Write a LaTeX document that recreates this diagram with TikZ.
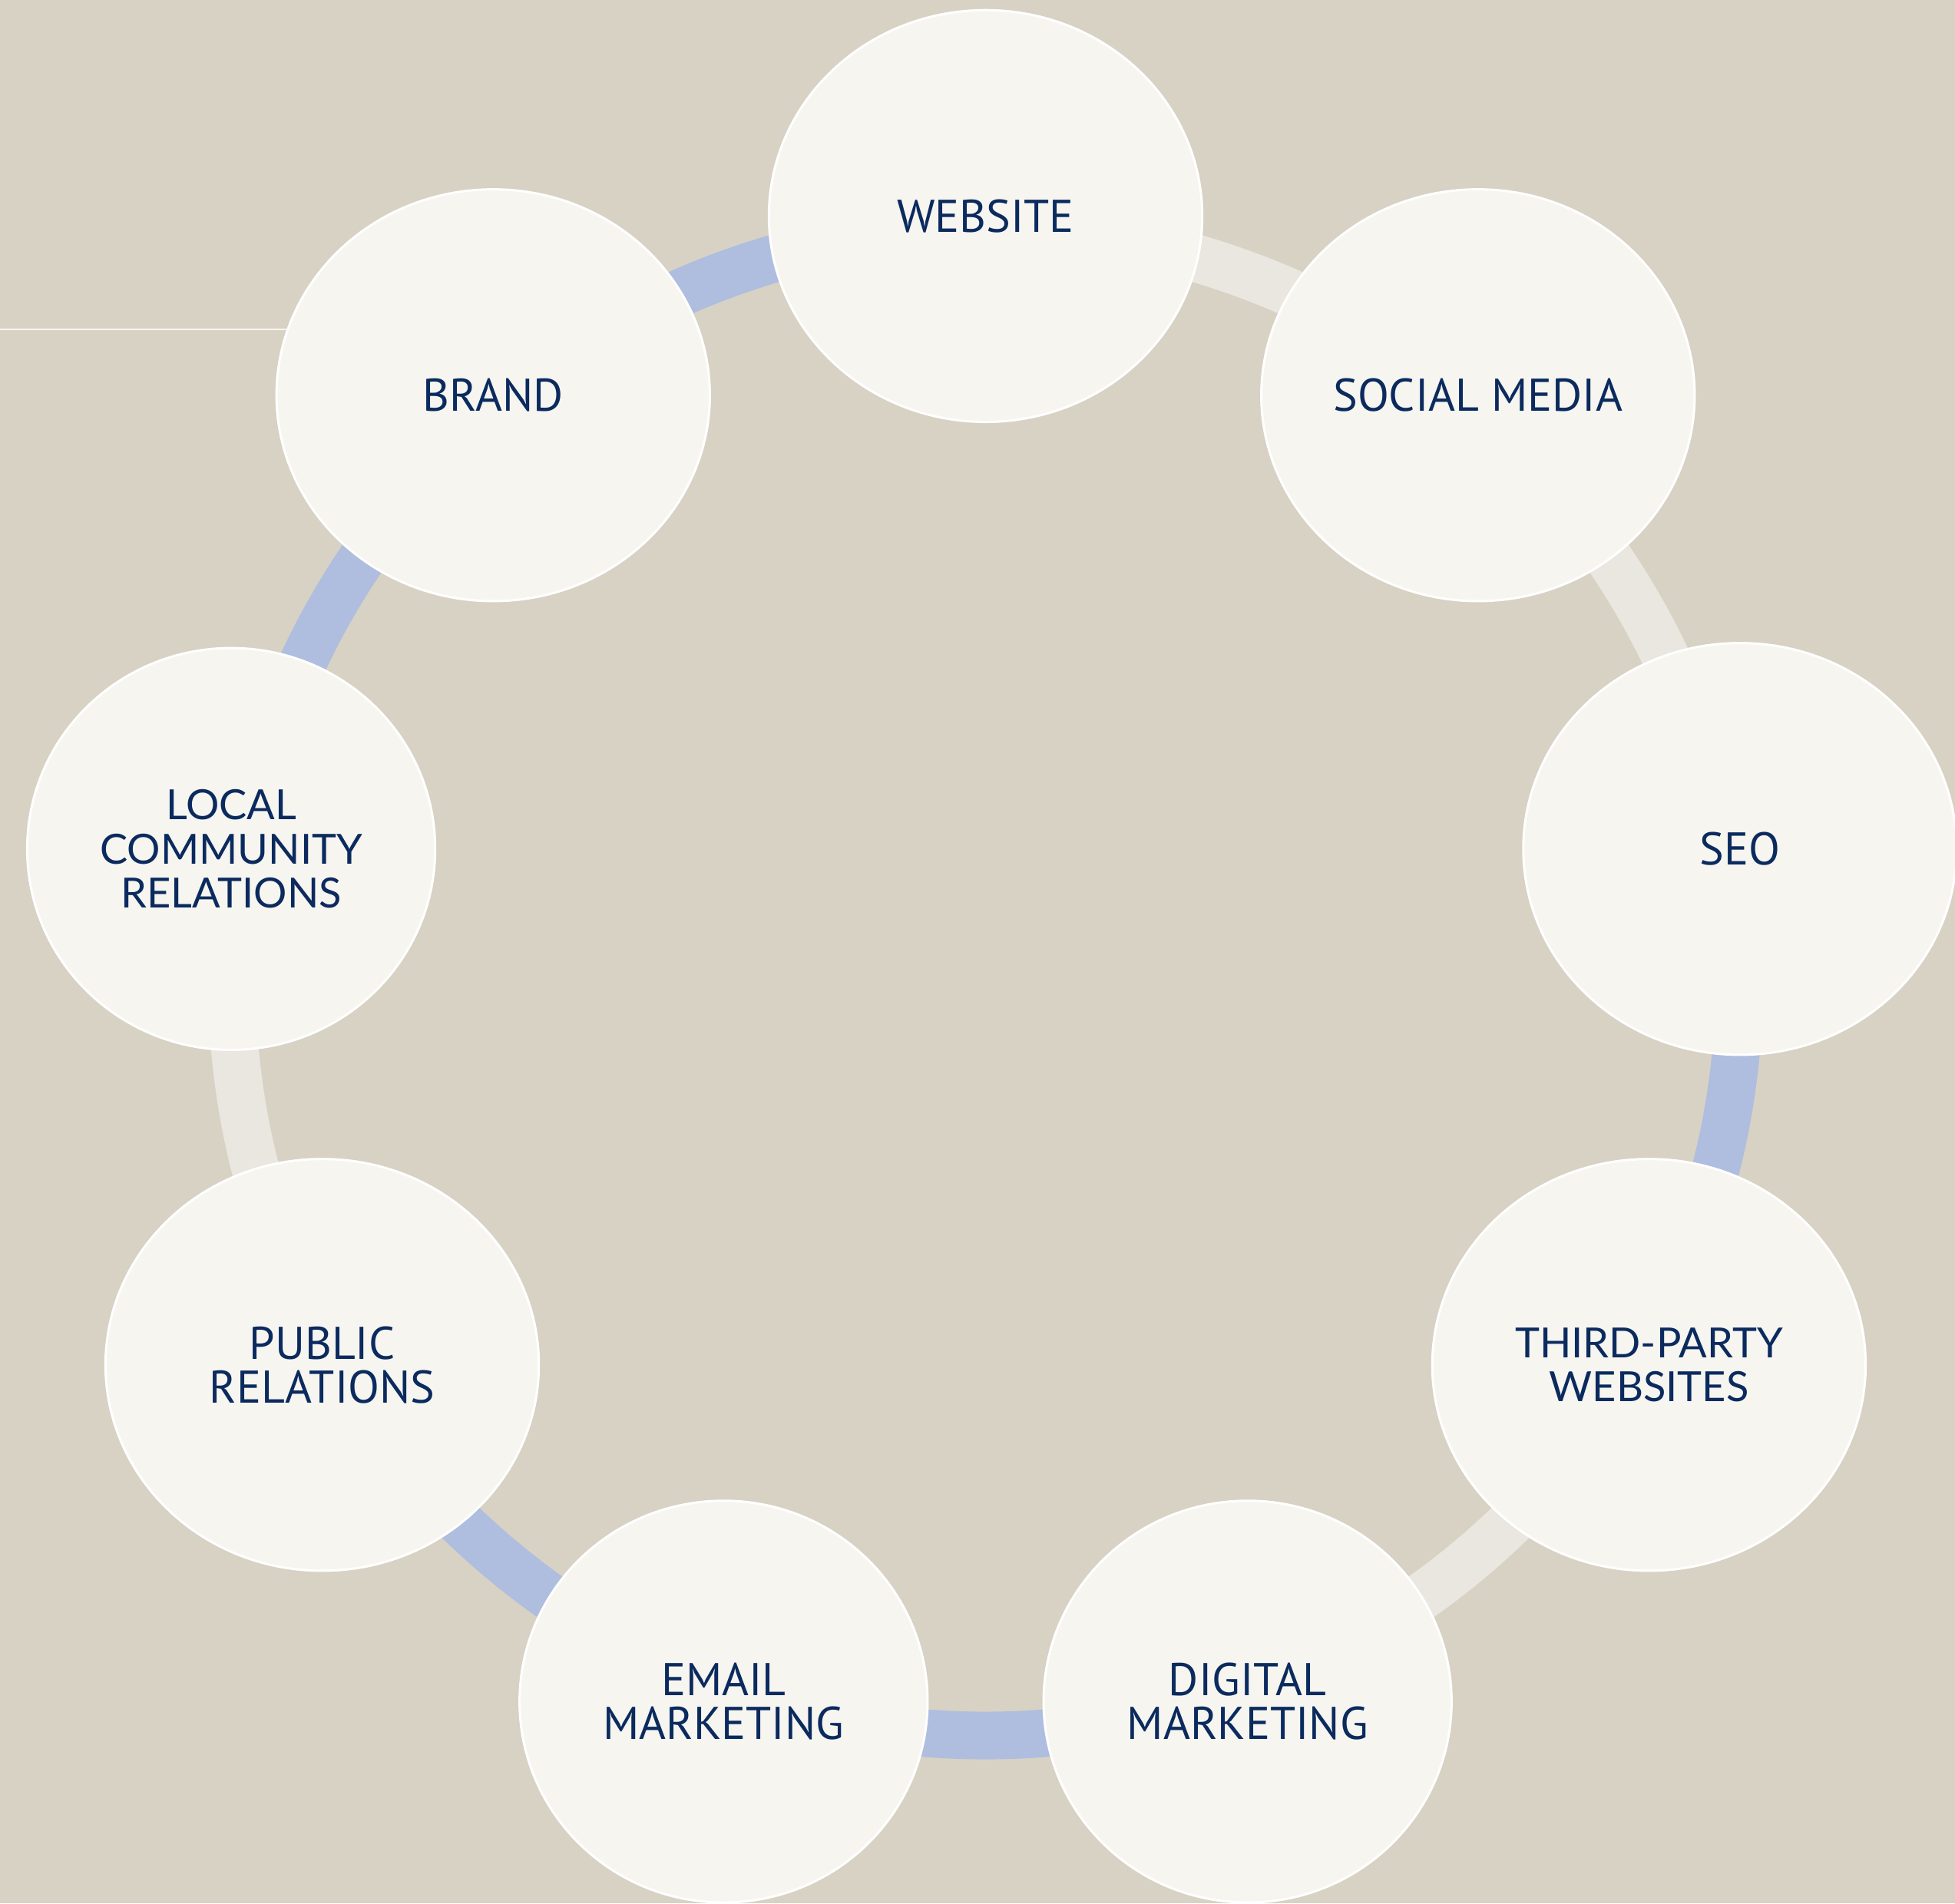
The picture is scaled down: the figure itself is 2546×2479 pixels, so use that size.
\documentclass[tikz,border=0pt]{standalone}
\usepackage{fontspec}
\setmainfont{PT Sans}
\newfontfamily\latofont{Lato}
\usetikzlibrary{shapes.geometric}
\definecolor{bgc}{HTML}{D8D2C4}
\definecolor{bandblue}{HTML}{AFBDDF}
\definecolor{bandlight}{HTML}{E9E7DF}
\definecolor{nodefill}{HTML}{F6F5F0}
\definecolor{txt}{HTML}{0B2A5E}
\tikzset{
  bigell/.style={ellipse, draw=white, line width=0.03cm, fill=nodefill, inner sep=0pt,
    minimum width=5.64cm, minimum height=5.36cm, align=center, text=txt,
    font=\fontsize{17}{16.2}\selectfont},
  smallell/.style={bigell, minimum width=5.31cm, minimum height=5.23cm},
  latotext/.style={font=\latofont\fontsize{15.4}{16.4}\selectfont},
  bandb/.style={draw=bandblue, line width=0.62cm},
  bandl/.style={draw=bandlight, line width=0.62cm},
  thinline/.style={draw=nodefill, line width=0.025cm}
}
\begin{document}
\begin{tikzpicture}[x=0.01cm,y=0.01cm]
\fill[bgc] (0,0) rectangle (2546,2479);
\useasboundingbox (0,0) rectangle (2546,2479);
\coordinate (C) at (1283.5,1200);
% ring segments
\draw[bandb] ([shift={(90:9.81cm)}]C) arc[start angle=90, end angle=130, radius=9.81cm];
\draw[bandb] ([shift={(130:9.81cm)}]C) arc[start angle=130, end angle=170, radius=9.81cm];
\draw[bandl] ([shift={(170:9.81cm)}]C) arc[start angle=170, end angle=210, radius=9.81cm];
\draw[bandb] ([shift={(210:9.81cm)}]C) arc[start angle=210, end angle=250, radius=9.81cm];
\draw[bandb] ([shift={(250:9.81cm)}]C) arc[start angle=250, end angle=290, radius=9.81cm];
\draw[bandl] ([shift={(290:9.81cm)}]C) arc[start angle=290, end angle=330, radius=9.81cm];
\draw[bandb] ([shift={(330:9.81cm)}]C) arc[start angle=330, end angle=370, radius=9.81cm];
\draw[bandl] ([shift={(10:9.81cm)}]C) arc[start angle=10, end angle=50, radius=9.81cm];
\draw[bandl] ([shift={(50:9.81cm)}]C) arc[start angle=50, end angle=90, radius=9.81cm];
% thin line at left (ends at the BRAND ellipse border)
\coordinate (lstart) at (0,2050);
\coordinate (lend) at (380,2050);
\draw[thinline] (lstart) -- (lend);
% nodes
\node[bigell] (website) at ([shift={(90:9.97cm)}]C) {WEBSITE};
\node[bigell] (social) at ([shift={(50:9.97cm)}]C) {SOCIAL MEDIA};
\node[bigell] (seo) at ([shift={(10:9.97cm)}]C) {SEO};
\node[bigell, latotext] (third) at ([shift={(-30:9.97cm)}]C) {THIRD-PARTY\\WEBSITES};
\node[smallell] (digital) at ([shift={(-70:9.97cm)}]C) {DIGITAL\\MARKETING};
\node[smallell] (email) at ([shift={(250:9.97cm)}]C) {EMAIL\\MARKETING};
\node[bigell] (public) at ([shift={(210:9.97cm)}]C) {PUBLIC\\RELATIONS};
\node[smallell, latotext] (local) at ([shift={(170:9.97cm)}]C) {LOCAL\\COMMUNITY\\RELATIONS};
\node[bigell] (brand) at ([shift={(130:9.97cm)}]C) {BRAND};
\end{tikzpicture}
\end{document}
